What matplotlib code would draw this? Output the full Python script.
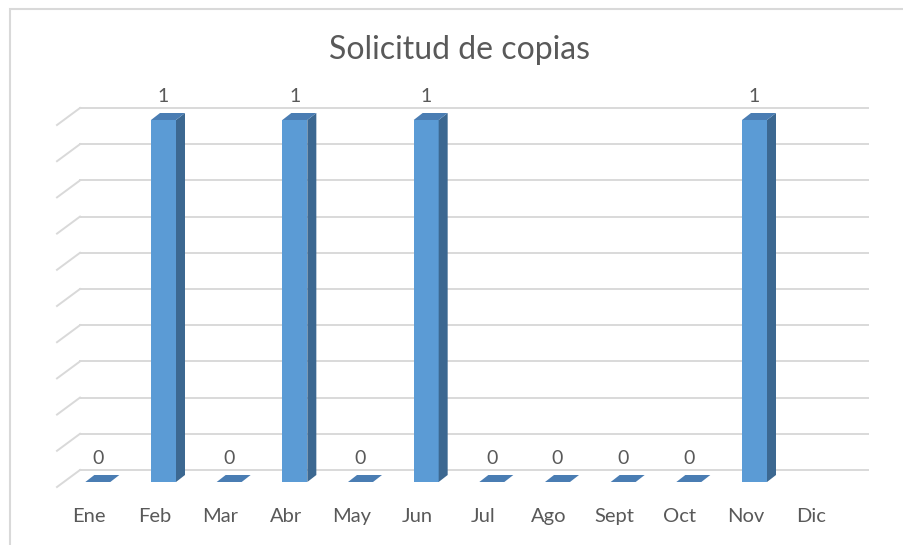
import matplotlib
matplotlib.use('Agg')
import matplotlib.pyplot as plt
import matplotlib.transforms as mtransforms
from matplotlib.patches import Polygon, Rectangle
import numpy as np

plt.rcParams['font.family'] = ['Lato', 'DejaVu Sans']

# data
months = ['Ene', 'Feb', 'Mar', 'Abr', 'May', 'Jun', 'Jul', 'Ago', 'Sept', 'Oct', 'Nov', 'Dic']
requests = [0, 1, 0, 1, 0, 1, 0, 0, 0, 0, 1, None]
value_ticks = np.arange(0, 1.01, 0.1)

col_front = '#5B9BD5'
col_side = '#3C6891'
col_top = '#4A7DB3'
col_grid = '#D9D9D9'
col_text = '#595959'

fig = plt.figure(figsize=(9.04, 5.45), dpi=100)
W, H = 904, 545
ax = fig.add_axes([65 / W, 63 / H, 788 / W, 362 / H])
ax.set_xlim(0, 12)
ax.set_ylim(0, 1)
for s in ax.spines.values():
    s.set_visible(False)
ax.set_yticks([])

# data units per pixel
px = 12 / 788
py = 1 / 362

# 3d offsets (pixels): back wall, floor front edge, bar depth
back = (15, 12)
front = (-8, -5)
depth = (9, 7)

# gridlines on back wall + slanted floor-side part
for v in value_ticks:
    yb = v + back[1] * py
    ax.plot([back[0] * px, 12 + back[0] * px], [yb, yb], color=col_grid, lw=1.4, zorder=1, clip_on=False)
    ax.plot([front[0] * px, back[0] * px], [v + front[1] * py, yb], color=col_grid, lw=1.4, zorder=1, clip_on=False)

# bars
bw = 25 * px
dx, dy = depth[0] * px, depth[1] * py
for i, v in enumerate(requests):
    if v is None:
        continue
    xl = i + 0.5 - bw / 2
    xr = xl + bw
    if v > 0:
        ax.bar(i + 0.5, v, width=bw, color=col_front, zorder=3, clip_on=False)
        ax.add_patch(Polygon([(xr, 0), (xr, v), (xr + dx, v + dy), (xr + dx, dy)],
                             closed=True, fc=col_side, ec='none', zorder=3, clip_on=False))
    ax.add_patch(Polygon([(xl, v), (xr, v), (xr + dx, v + dy), (xl + dx, v + dy)],
                         closed=True, fc=col_top, ec='none', zorder=3, clip_on=False))
    ax.annotate(str(v), (i + 0.5, v), xytext=(0, 23.5 * 0.72), textcoords='offset points',
                ha='center', va='center', fontsize=14, color=col_text)

# category labels sit at the front edge of the floor
ax.set_xticks(np.arange(12) + 0.5)
ax.set_xticklabels(months, fontsize=14.5, color=col_text)
ax.tick_params(axis='x', length=0, pad=19)
shift = mtransforms.ScaledTranslation(-9 / 100, 0, fig.dpi_scale_trans)
for lbl in ax.get_xticklabels():
    lbl.set_transform(lbl.get_transform() + shift)

fig.text(460 / W, 1 - 50 / H, 'Solicitud de copias', ha='center', va='center',
         fontsize=23, color=col_text)

# chart border
fig.patches.append(Rectangle((10 / W, -0.1), 1.2, 1.1 - 9 / H, transform=fig.transFigure,
                             fill=False, ec=col_grid, lw=1.5))

fig.savefig('out.png', dpi=100)
